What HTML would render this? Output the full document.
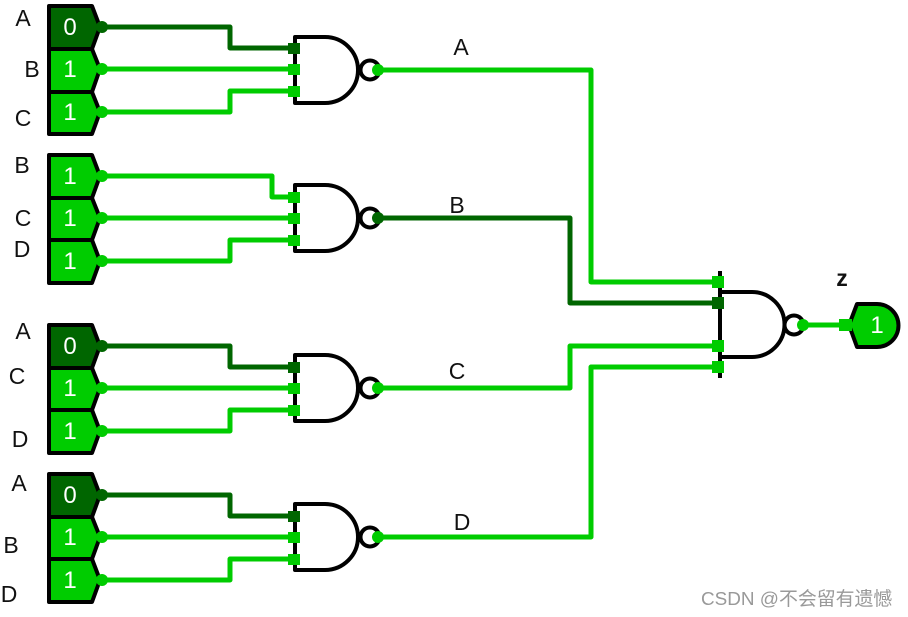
<!DOCTYPE html>
<html><head><meta charset="utf-8"><style>
html,body{margin:0;padding:0;background:#fff;width:908px;height:617px;overflow:hidden}
svg{display:block}
text{font-family:"Liberation Sans","Noto Sans CJK SC",sans-serif}
.l{font-size:23px;fill:#111;text-anchor:middle}
.v{font-size:24px;fill:#fff;text-anchor:middle}
.g{fill:#00cc00}.d{fill:#006600}
.wg{fill:none;stroke:#00cc00;stroke-width:5;stroke-linejoin:round}
.wd{fill:none;stroke:#006600;stroke-width:5;stroke-linejoin:round}
.b{fill:none;stroke:#000;stroke-width:4;stroke-linejoin:round}
.p{stroke:#000;stroke-width:4;stroke-linejoin:round}
</style></head><body>
<svg width="908" height="617" viewBox="0 0 908 617" xmlns="http://www.w3.org/2000/svg">
<defs>
<g id="gate">
<path class="b" d="M295 -33V33H325A33 33 0 0 0 325 -33Z"/>
<circle class="b" cx="370" cy="0" r="9.5" fill="#fff"/>
</g>
</defs>

<!-- wires -->
<path class="wd" d="M102 27H230V48H295"/>
<path class="wg" d="M102 69H295M102 112H230V91H295"/>
<path class="wg" d="M378 70H591V282H720"/>
<path class="wg" d="M102 176H272V197H295M102 218H295M102 261H230V240H295"/>
<path class="wd" d="M378 218H570V303H720"/>
<path class="wd" d="M102 346H230V367H295"/>
<path class="wg" d="M102 388H295M102 431H230V410H295"/>
<path class="wg" d="M378 388H570V346H720"/>
<path class="wd" d="M102 495H230V516H295"/>
<path class="wg" d="M102 537H295M102 580H230V559H295"/>
<path class="wg" d="M378 537H591V367H720"/>
<path class="wg" d="M803 325H850"/>

<!-- gates -->
<use href="#gate" y="70"/>
<use href="#gate" y="218"/>
<use href="#gate" y="388"/>
<use href="#gate" y="537"/>
<path class="b" d="M720 271V378M720 292H752A32.5 32.5 0 0 1 752 357H720"/>
<circle class="b" cx="794" cy="325" r="9.5" fill="#fff"/>

<!-- input pins -->
<path class="p d" d="M49 6H92L100 27L92 49H49Z"/>
<path class="p g" d="M49 49H92L100 69L92 92H49Z"/>
<path class="p g" d="M49 92H92L100 112L92 134H49Z"/>
<path class="p g" d="M49 155H92L100 176L92 198H49Z"/>
<path class="p g" d="M49 198H92L100 218L92 240H49Z"/>
<path class="p g" d="M49 240H92L100 261L92 283H49Z"/>
<path class="p d" d="M49 325H92L100 346L92 368H49Z"/>
<path class="p g" d="M49 368H92L100 388L92 410H49Z"/>
<path class="p g" d="M49 410H92L100 431L92 453H49Z"/>
<path class="p d" d="M49 474H92L100 495L92 517H49Z"/>
<path class="p g" d="M49 517H92L100 537L92 559H49Z"/>
<path class="p g" d="M49 559H92L100 580L92 602H49Z"/>

<!-- output pin -->
<path class="p g" d="M849 325L857 304H877A21.5 21.5 0 0 1 877 347H857Z"/>

<!-- port squares and connection dots -->
<g class="g">
<rect x="288" y="64" width="12" height="11"/><rect x="288" y="86" width="12" height="11"/>
<rect x="288" y="192" width="12" height="11"/><rect x="288" y="213" width="12" height="11"/><rect x="288" y="235" width="12" height="11"/>
<rect x="288" y="383" width="12" height="11"/><rect x="288" y="405" width="12" height="11"/>
<rect x="288" y="532" width="12" height="11"/><rect x="288" y="554" width="12" height="11"/>
<rect x="712" y="276" width="12" height="12"/><rect x="712" y="340" width="12" height="12"/><rect x="712" y="361" width="12" height="12"/>
<rect x="839" y="319" width="13" height="12"/>
<circle cx="102" cy="69" r="6"/><circle cx="102" cy="112" r="6"/>
<circle cx="102" cy="176" r="6"/><circle cx="102" cy="218" r="6"/><circle cx="102" cy="261" r="6"/>
<circle cx="102" cy="388" r="6"/><circle cx="102" cy="431" r="6"/>
<circle cx="102" cy="537" r="6"/><circle cx="102" cy="580" r="6"/>
<circle cx="378" cy="70" r="6"/><circle cx="378" cy="388" r="6"/><circle cx="378" cy="537" r="6"/>
<circle cx="803" cy="325" r="6"/>
</g>
<g class="d">
<rect x="288" y="43" width="12" height="11"/>
<rect x="288" y="362" width="12" height="11"/><rect x="288" y="511" width="12" height="11"/>
<rect x="712" y="297" width="12" height="12"/>
<circle cx="102" cy="27" r="6"/><circle cx="102" cy="346" r="6"/><circle cx="102" cy="495" r="6"/>
<circle cx="378" cy="218" r="6"/>
</g>

<!-- pin values -->
<text class="v" x="70" y="35">0</text><text class="v" x="70" y="77">1</text><text class="v" x="70" y="120">1</text>
<text class="v" x="70" y="184">1</text><text class="v" x="70" y="226">1</text><text class="v" x="70" y="269">1</text>
<text class="v" x="70" y="354">0</text><text class="v" x="70" y="396">1</text><text class="v" x="70" y="439">1</text>
<text class="v" x="70" y="503">0</text><text class="v" x="70" y="545">1</text><text class="v" x="70" y="588">1</text>
<text class="v" x="877" y="333">1</text>

<!-- labels -->
<text class="l" x="23" y="26">A</text><text class="l" x="32" y="77">B</text><text class="l" x="23" y="126">C</text>
<text class="l" x="22" y="173">B</text><text class="l" x="23" y="226">C</text><text class="l" x="22" y="257">D</text>
<text class="l" x="23" y="339">A</text><text class="l" x="17" y="384">C</text><text class="l" x="20" y="447">D</text>
<text class="l" x="19" y="491">A</text><text class="l" x="11" y="553">B</text><text class="l" x="9" y="602">D</text>
<text class="l" x="461" y="55">A</text><text class="l" x="457" y="213">B</text><text class="l" x="457" y="379">C</text><text class="l" x="462" y="530">D</text>
<text class="l" x="842" y="286" font-weight="bold">z</text>

<text x="701" y="605" font-size="18.9" fill="#999">CSDN @不会留有遗憾</text>
</svg>
</body></html>
